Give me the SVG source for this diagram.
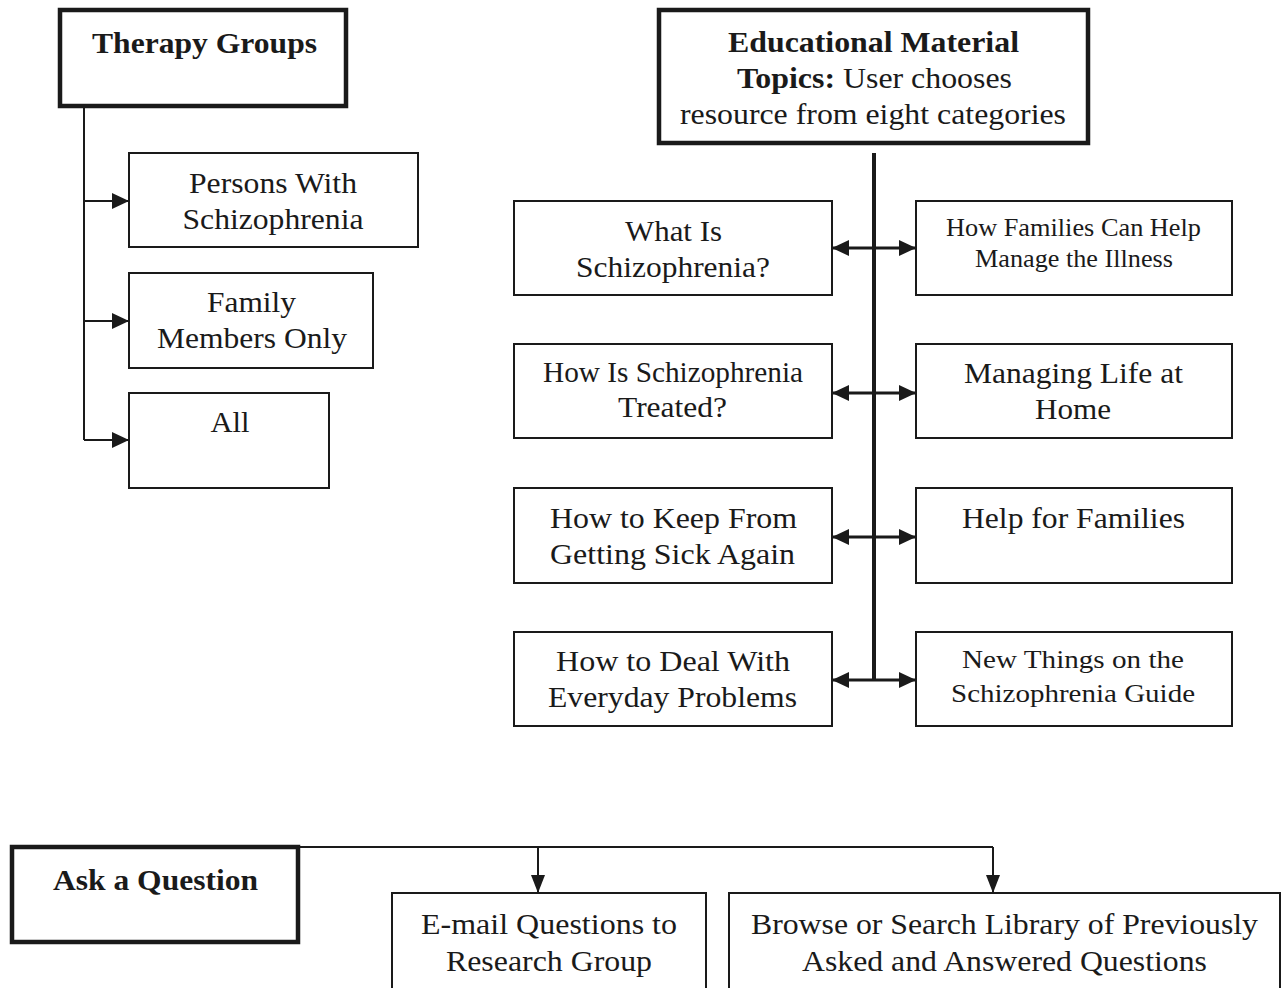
<svg xmlns="http://www.w3.org/2000/svg" width="1283" height="988" viewBox="0 0 1283 988">
<defs>
<style>
.box{fill:#fff;stroke:#1a1a1a;stroke-width:2}
.main{fill:#fff;stroke:#1a1a1a;stroke-width:4.5}
.t{font-family:"Liberation Serif","Times New Roman",serif;font-size:30px;fill:#1a1a1a;text-anchor:middle}
.b{font-weight:bold}
.s{font-size:26px}
.c{fill:none;stroke:#1a1a1a;stroke-width:2}
.c3{fill:none;stroke:#1a1a1a;stroke-width:3}
</style>
<marker id="ah" markerUnits="userSpaceOnUse" markerWidth="17" markerHeight="16" refX="17" refY="8" orient="auto-start-reverse" viewBox="0 0 17 16">
<path d="M0,0 L17,8 L0,16 z" fill="#1a1a1a"/>
</marker>
<marker id="ad" markerUnits="userSpaceOnUse" markerWidth="18" markerHeight="14" refX="18" refY="7" orient="auto" viewBox="0 0 18 14">
<path d="M0,0 L18,7 L0,14 z" fill="#1a1a1a"/>
</marker>
</defs>

<g id="connectors">
<path class="c" d="M84,106 V440"/>
<path class="c" d="M84,201 H129" marker-end="url(#ah)"/>
<path class="c" d="M84,321 H129" marker-end="url(#ah)"/>
<path class="c" d="M84,440 H129" marker-end="url(#ah)"/>
<path d="M874,153 V680" fill="none" stroke="#1a1a1a" stroke-width="4"/>
<path class="c3" d="M832,248 H916" marker-start="url(#ah)" marker-end="url(#ah)"/>
<path class="c3" d="M832,393 H916" marker-start="url(#ah)" marker-end="url(#ah)"/>
<path class="c3" d="M832,537 H916" marker-start="url(#ah)" marker-end="url(#ah)"/>
<path class="c3" d="M832,680 H916" marker-start="url(#ah)" marker-end="url(#ah)"/>
<path class="c" d="M10,847 H993"/>
<path class="c" d="M538,847 V893" marker-end="url(#ad)"/>
<path class="c" d="M993,847 V893" marker-end="url(#ad)"/>
</g>

<g id="therapy-groups">
<rect class="main" x="60" y="10" width="286" height="96"/>
<text class="t b" x="204.5" y="53" textLength="225" lengthAdjust="spacingAndGlyphs">Therapy Groups</text>
</g>
<g id="persons-with-schizophrenia">
<rect class="box" x="129" y="153" width="289" height="94"/>
<text class="t" x="273" y="193" textLength="168" lengthAdjust="spacingAndGlyphs">Persons With</text>
<text class="t" x="273" y="229" textLength="181" lengthAdjust="spacingAndGlyphs">Schizophrenia</text>
</g>
<g id="family-members-only">
<rect class="box" x="129" y="273" width="244" height="95"/>
<text class="t" x="251.5" y="312" textLength="89" lengthAdjust="spacingAndGlyphs">Family</text>
<text class="t" x="252" y="348" textLength="190" lengthAdjust="spacingAndGlyphs">Members Only</text>
</g>
<g id="all">
<rect class="box" x="129" y="393" width="200" height="95"/>
<text class="t" x="230" y="432" textLength="39" lengthAdjust="spacingAndGlyphs">All</text>
</g>

<g id="educational-material">
<rect class="main" x="659" y="10" width="429" height="133"/>
<text class="t b" x="873.5" y="52" textLength="291" lengthAdjust="spacingAndGlyphs">Educational Material</text>
<text class="t" x="874.5" y="88" textLength="275" lengthAdjust="spacingAndGlyphs"><tspan class="b">Topics:</tspan> User chooses</text>
<text class="t" x="873" y="124" textLength="386" lengthAdjust="spacingAndGlyphs">resource from eight categories</text>
</g>

<g id="what-is-schizophrenia">
<rect class="box" x="514" y="201" width="318" height="94"/>
<text class="t" x="673.5" y="241" textLength="97" lengthAdjust="spacingAndGlyphs">What Is</text>
<text class="t" x="673" y="277" textLength="194" lengthAdjust="spacingAndGlyphs">Schizophrenia?</text>
</g>
<g id="how-families-can-help">
<rect class="box" x="916" y="201" width="316" height="94"/>
<text class="t s" x="1073.5" y="236" textLength="255" lengthAdjust="spacingAndGlyphs">How Families Can Help</text>
<text class="t s" x="1074" y="267" textLength="198" lengthAdjust="spacingAndGlyphs">Manage the Illness</text>
</g>
<g id="how-is-schizophrenia-treated">
<rect class="box" x="514" y="344" width="318" height="94"/>
<text class="t" x="673" y="382" textLength="260" lengthAdjust="spacingAndGlyphs">How Is Schizophrenia</text>
<text class="t" x="672.5" y="417" textLength="109" lengthAdjust="spacingAndGlyphs">Treated?</text>
</g>
<g id="managing-life-at-home">
<rect class="box" x="916" y="344" width="316" height="94"/>
<text class="t" x="1073.5" y="383" textLength="219" lengthAdjust="spacingAndGlyphs">Managing Life at</text>
<text class="t" x="1073" y="419" textLength="76" lengthAdjust="spacingAndGlyphs">Home</text>
</g>
<g id="how-to-keep-from-getting-sick-again">
<rect class="box" x="514" y="488" width="318" height="95"/>
<text class="t" x="673.5" y="528" textLength="247" lengthAdjust="spacingAndGlyphs">How to Keep From</text>
<text class="t" x="672.5" y="564" textLength="245" lengthAdjust="spacingAndGlyphs">Getting Sick Again</text>
</g>
<g id="help-for-families">
<rect class="box" x="916" y="488" width="316" height="95"/>
<text class="t" x="1073.5" y="528" textLength="223" lengthAdjust="spacingAndGlyphs">Help for Families</text>
</g>
<g id="how-to-deal-with-everyday-problems">
<rect class="box" x="514" y="632" width="318" height="94"/>
<text class="t" x="673" y="671" textLength="234" lengthAdjust="spacingAndGlyphs">How to Deal With</text>
<text class="t" x="672.5" y="707" textLength="249" lengthAdjust="spacingAndGlyphs">Everyday Problems</text>
</g>
<g id="new-things-on-the-schizophrenia-guide">
<rect class="box" x="916" y="632" width="316" height="94"/>
<text class="t s" x="1073" y="668" textLength="222" lengthAdjust="spacingAndGlyphs">New Things on the</text>
<text class="t s" x="1073" y="702" textLength="244" lengthAdjust="spacingAndGlyphs">Schizophrenia Guide</text>
</g>

<g id="ask-a-question">
<rect class="main" x="12" y="847" width="286" height="95"/>
<text class="t b" x="155.5" y="890" textLength="205" lengthAdjust="spacingAndGlyphs">Ask a Question</text>
</g>
<g id="email-questions">
<rect class="box" x="392" y="893" width="314" height="110"/>
<text class="t" x="549" y="934" textLength="256" lengthAdjust="spacingAndGlyphs">E-mail Questions to</text>
<text class="t" x="549" y="971" textLength="206" lengthAdjust="spacingAndGlyphs">Research Group</text>
</g>
<g id="browse-library">
<rect class="box" x="729" y="893" width="551" height="110"/>
<text class="t" x="1004.5" y="934" textLength="507" lengthAdjust="spacingAndGlyphs">Browse or Search Library of Previously</text>
<text class="t" x="1004.5" y="971" textLength="405" lengthAdjust="spacingAndGlyphs">Asked and Answered Questions</text>
</g>
</svg>
